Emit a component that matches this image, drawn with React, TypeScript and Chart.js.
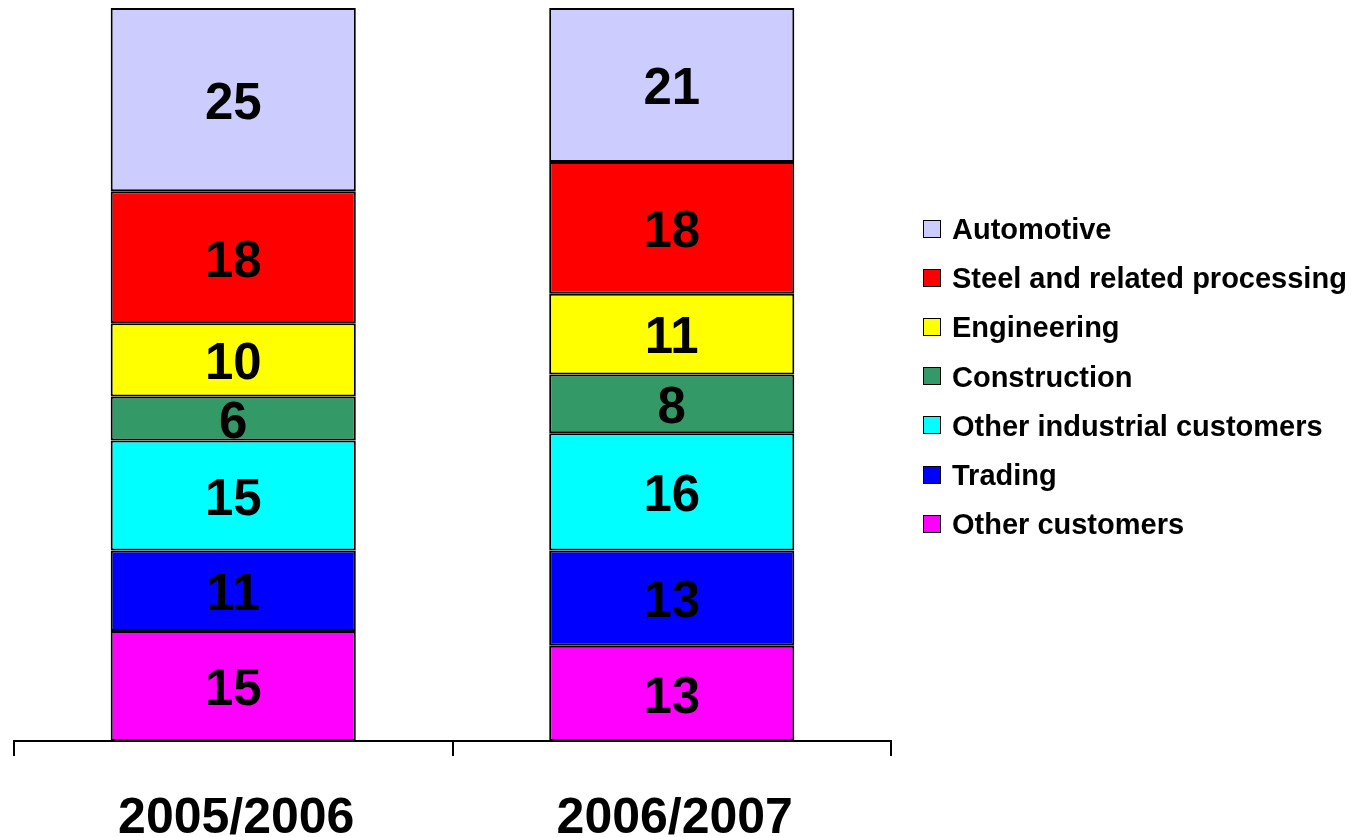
import React, { useEffect, useRef } from "react";
import { Chart, registerables } from "chart.js";

Chart.register(...registerables);

const categories = ["2005/2006", "2006/2007"];
const otherCustomers = [15, 13];
const trading = [11, 13];
const otherIndustrial = [15, 16];
const construction = [6, 8];
const engineering = [10, 11];
const steel = [18, 18];
const automotive = [25, 21];

const seriesNames = [
  "Other customers",
  "Trading",
  "Other industrial customers",
  "Construction",
  "Engineering",
  "Steel and related processing",
  "Automotive",
];
const seriesColors = ["#FF00FF", "#0000FF", "#00FFFF", "#339966", "#FFFF00", "#FF0000", "#CCCCFF"];
const seriesData = [otherCustomers, trading, otherIndustrial, construction, engineering, steel, automotive];

const FONT = "'Liberation Sans', Arial, sans-serif";

const labelPlugin = {
  id: "valueLabels",
  afterDatasetsDraw(chart: any) {
    const ctx = chart.ctx;
    ctx.save();
    ctx.font = `bold 51px ${FONT}`;
    ctx.fillStyle = "#000";
    ctx.textAlign = "center";
    ctx.textBaseline = "alphabetic";
    chart.data.datasets.forEach((ds: any, di: number) => {
      const meta = chart.getDatasetMeta(di);
      meta.data.forEach((bar: any, i: number) => {
        const cy = (bar.y + bar.base) / 2;
        ctx.fillText(String(ds.data[i]), bar.x, cy + 19.3);
      });
    });
    ctx.restore();
  },
  afterDraw(chart: any) {
    const ctx = chart.ctx;
    const xs = chart.scales.x;
    ctx.save();
    ctx.font = `bold 50px ${FONT}`;
    ctx.fillStyle = "#000";
    ctx.textAlign = "center";
    ctx.textBaseline = "alphabetic";
    categories.forEach((c, i) => {
      ctx.fillText(c, xs.getPixelForValue(i) + 3, 833);
    });
    ctx.restore();
  },
};

export default function App() {
  const ref = useRef<HTMLCanvasElement | null>(null);
  useEffect(() => {
    if (!ref.current) return;
    const chart = new Chart(ref.current, {
      type: "bar",
      data: {
        labels: categories,
        datasets: seriesNames.map((n, i) => ({
          label: n,
          data: seriesData[i],
          backgroundColor: seriesColors[i],
          borderColor: "#000",
          borderWidth: 2,
          borderSkipped: false as any,
          categoryPercentage: 1,
          barPercentage: 0.559,
        })),
      },
      options: {
        animation: false,
        responsive: false,
        devicePixelRatio: 1,
        layout: { padding: { left: 14, right: 462, top: 8, bottom: 81 } },
        plugins: { legend: { display: false }, tooltip: { enabled: false } },
        scales: {
          x: {
            stacked: true,
            offset: true,
            grid: {
              display: true,
              offset: true,
              drawOnChartArea: false,
              drawTicks: true,
              tickLength: 15,
              color: "#000",
              lineWidth: 2,
            },
            border: { display: true, color: "#000", width: 2 },
            ticks: { display: false },
          },
          y: { stacked: true, display: false, min: 0, max: 100 },
        },
      },
      plugins: [labelPlugin],
    });
    return () => chart.destroy();
  }, []);

  const legendItems = seriesNames.map((n, i) => ({ n, c: seriesColors[i] })).reverse();

  return (
    <div style={{ position: "absolute", left: 0, top: 0, width: 1353, height: 837, background: "#fff" }}>
      <canvas ref={ref} width={1353} height={837} style={{ position: "absolute", left: 0, top: 0 }} />
      {legendItems.map((it, i) => (
        <div
          key={it.n}
          style={{
            position: "absolute",
            left: 923,
            top: 219 + i * 49.2,
            height: 19,
            display: "flex",
            alignItems: "center",
            whiteSpace: "nowrap",
          }}
        >
          <div
            style={{
              width: 16,
              height: 16,
              background: it.c,
              border: "1.5px solid #000",
              marginRight: 11,
              flex: "0 0 auto",
            }}
          />
          <span
            style={{
              fontFamily: FONT,
              fontWeight: "bold",
              fontSize: 29,
              lineHeight: "19px",
              color: "#000",
              position: "relative",
              top: 1,
            }}
          >
            {it.n}
          </span>
        </div>
      ))}
    </div>
  );
}
